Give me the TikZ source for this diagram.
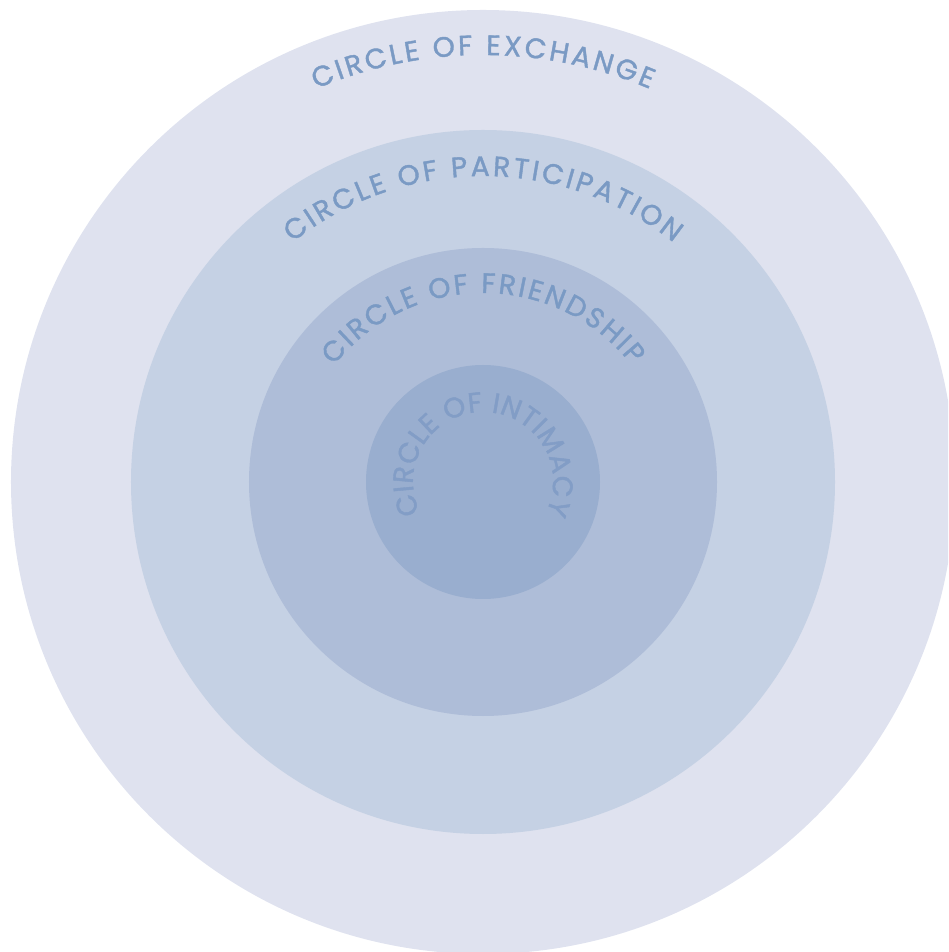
\documentclass[tikz,border=0pt]{standalone}
\usepackage{fontspec}
\newfontfamily\ringfont[FakeBold=1.4]{Poppins}
\definecolor{exchange}{RGB}{223, 226, 239}
\definecolor{participation}{RGB}{197, 209, 228}
\definecolor{friendship}{RGB}{174, 189, 216}
\definecolor{intimacy}{RGB}{153, 174, 207}
\definecolor{ringtext}{RGB}{122, 154, 196}
\definecolor{innertext}{RGB}{130, 157, 198}
\usetikzlibrary{decorations.text}
\tikzset{
	ring/.style={fill=#1, draw=none},
	ringlabel/.style={decorate, decoration={text along path, text align=fit to path, text color=#1}},
}
\begin{document}
\begin{tikzpicture}[x=0.02cm, y=0.02cm]
	\useasboundingbox (-483,-470) rectangle (465,482);
	\clip (-483,-470) rectangle (465,482);
	% the four rings, outside in
	\fill[ring=exchange] (0,0) circle (472);
	\fill[ring=participation] (0,0) circle (352);
	\fill[ring=friendship] (0,0) circle (234);
	\fill[ring=intimacy] (0,0) circle (117);
	% names along the arcs
	\path[ringlabel=ringtext, decoration={text={|\ringfont\fontsize{16}{18}\selectfont|CIRCLE OF EXCHANGE}}]
		(113:427) arc[start angle=113, end angle=67, radius=427];
	\path[ringlabel=ringtext, decoration={text={|\ringfont\fontsize{16}{18}\selectfont|CIRCLE OF PARTICIPATION}}]
		(128.5:306) arc[start angle=128.5, end angle=51.5, radius=306];
	\path[ringlabel=ringtext, decoration={text={|\ringfont\fontsize{16}{18}\selectfont|CIRCLE OF FRIENDSHIP}}]
		(142:189) arc[start angle=142, end angle=38, radius=189];
	\path[ringlabel=innertext, decoration={text={|\ringfont\fontsize{16}{18}\selectfont|CIRCLE OF INTIMACY}}]
		(206:70) arc[start angle=206, end angle=-26, radius=70];
\end{tikzpicture}
\end{document}
